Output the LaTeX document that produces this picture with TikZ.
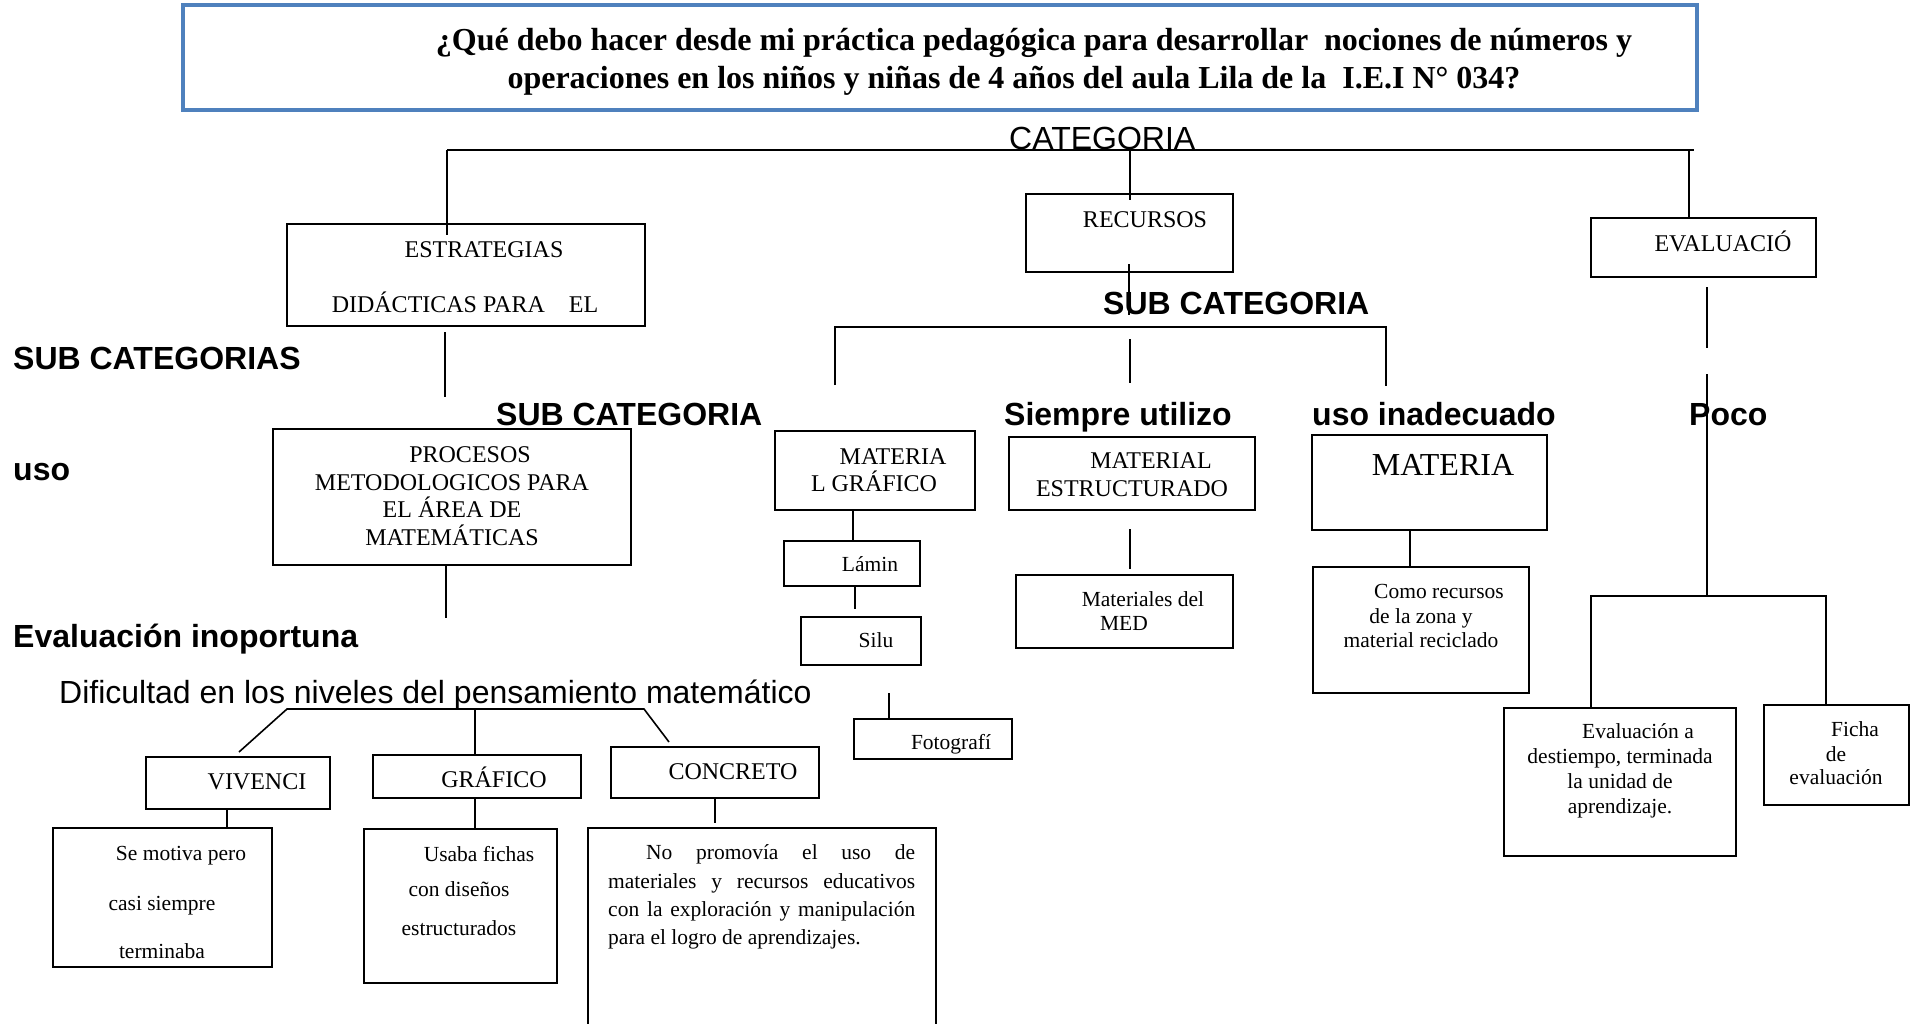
\documentclass[tikz,border=0pt]{standalone}
\usepackage{fontspec}
\setmainfont{Liberation Serif}
\newfontfamily\arialf{Liberation Sans}
\definecolor{titleblue}{RGB}{79,129,189}
\newcommand\mybox[6][]{\node[bx,#1,minimum width={(#5)-(#3)},minimum height={(#6)-(#4)}] (#2) at ({((#3)+(#5))/2},{((#4)+(#6))/2}) {};}
\begin{document}
\begin{tikzpicture}[x=1pt,y=-1pt,
  bx/.style={draw=black,line width=1.2pt,inner sep=0pt,outer sep=0pt},
  ln/.style={line width=1.6pt},
  ttl/.style={font=\bfseries\fontsize{32}{37}\selectfont,inner sep=0pt,anchor=base},
  cps/.style={font=\fontsize{24}{28}\selectfont,inner sep=0pt,anchor=base},
  bigt/.style={font=\fontsize{32}{37}\selectfont,inner sep=0pt,anchor=base},
  sml/.style={font=\fontsize{21.5}{25}\selectfont,inner sep=0pt,anchor=base},
  smlw/.style={font=\fontsize{21.5}{25}\selectfont,inner sep=0pt,anchor=base west},
  lab/.style={font=\arialf\bfseries\fontsize{32}{37}\selectfont,inner sep=0pt,anchor=base west},
  reg/.style={font=\arialf\fontsize{32}{37}\selectfont,inner sep=0pt,anchor=base west}]
\useasboundingbox (0,0) rectangle (1916,1023);

% ---------- title ----------
\mybox[draw=titleblue,line width=3.5pt]{title}{183}{5}{1697}{110}
\node[ttl] (t1) at (1034,50) {¿Qué debo hacer desde mi práctica pedagógica para desarrollar\ \ nociones de números y};
\node[ttl] (t2) at (1014,88) {operaciones en los niños y niñas de 4 años del aula Lila de la\ \ I.E.I N° 034?};

% ---------- boxes ----------
\mybox{estr}{287}{224}{645}{326}
\mybox{rec}{1026}{194}{1233}{272}
\mybox{eval}{1591}{218}{1816}{277}
\mybox{proc}{273}{429}{631}{565}
\mybox{mgraf}{775}{431}{975}{510}
\mybox{lamin}{784}{541}{920}{586}
\mybox{silu}{801}{617}{921}{665}
\mybox{foto}{854}{719}{1012}{759}
\mybox{mest}{1009}{437}{1255}{510}
\mybox{med}{1016}{575}{1233}{648}
\mybox{mat}{1312}{435}{1547}{530}
\mybox{como}{1313}{567}{1529}{693}
\mybox{evdest}{1504}{708}{1736}{856}
\mybox{ficha}{1764}{705}{1909}{805}
\mybox{viv}{146}{757}{330}{809}
\mybox{semot}{53}{828}{272}{967}
\mybox{gra}{373}{755}{581}{798}
\mybox{usa}{364}{829}{557}{983}
\mybox{con}{611}{747}{819}{798}
\mybox{nopro}{588}{828}{936}{1060}

% ---------- labels ----------
\node[reg] (cat) at (1009,149) {CATEGORIA};
\node[reg] (dif) at (59,703) {Dificultad en los niveles del pensamiento matemático};
\node[lab] (subcats) at (13,369) {SUB CATEGORIAS};
\node[lab] (uso) at (13,480) {uso};
\node[lab] (evinop) at (13,647) {Evaluación inoportuna};
\node[lab] (subA) at (496,425) {SUB CATEGORIA};
\node[lab] (subB) at (1103,314) {SUB CATEGORIA};
\node[lab] (siempre) at (1004,425) {Siempre utilizo};
\node[lab] (usoin) at (1312,425) {uso inadecuado};
\node[lab] (poco) at (1689,425) {Poco};

% ---------- box texts ----------
\node[cps] (estrA) at (484,257) {ESTRATEGIAS};
\node[cps] (estrB) at (465,312) {DIDÁCTICAS PARA\ \ \ \ EL};
\node[cps] (recT) at (1145,227) {RECURSOS};
\node[cps] (evalT) at (1723,251) {EVALUACIÓ};
\node[cps] (procA) at (470,462) {PROCESOS};
\node[cps] (procB) at (452,490) {METODOLOGICOS PARA};
\node[cps] (procC) at (452,517) {EL ÁREA DE};
\node[cps] (procD) at (452,545) {MATEMÁTICAS};
\node[cps] (mgA) at (893,464) {MATERIA};
\node[cps] (mgB) at (874,491) {L GRÁFICO};
\node[cps] (meA) at (1151,468) {MATERIAL};
\node[cps] (meB) at (1132,496) {ESTRUCTURADO};
\node[cps] (vivT) at (257,789) {VIVENCI};
\node[cps] (graT) at (494,787) {GRÁFICO};
\node[cps] (conT) at (733,779) {CONCRETO};
\node[bigt] (matT) at (1443,475) {MATERIA};

\node[sml] (lamT) at (870,571) {Lámin};
\node[sml] (siluT) at (876,647) {Silu};
\node[sml] (fotoT) at (951,749) {Fotografí};
\node[sml] (medA) at (1143,606) {Materiales del};
\node[sml] (medB) at (1124,630) {MED};
\node[sml] (comoA) at (1439,598) {Como recursos};
\node[sml] (comoB) at (1421,623) {de la zona y};
\node[sml] (comoC) at (1421,647) {material reciclado};
\node[sml] (edA) at (1638,738) {Evaluación a};
\node[sml] (edB) at (1620,763) {destiempo, terminada};
\node[sml] (edC) at (1620,788) {la unidad de};
\node[sml] (edD) at (1620,813) {aprendizaje.};
\node[sml] (fiA) at (1855,736) {Ficha};
\node[sml] (fiB) at (1836,761) {de};
\node[sml] (fiC) at (1836,784) {evaluación};
\node[sml] (smA) at (181,860) {Se motiva pero};
\node[sml] (smB) at (162,910) {casi siempre};
\node[sml] (smC) at (162,958) {terminaba};
\node[sml] (usA) at (479,861) {Usaba fichas};
\node[sml] (usB) at (459,896) {con diseños};
\node[sml] (usC) at (459,935) {estructurados};
\node[smlw] (npA) at (646,859) {\makebox[269pt][s]{No promovía el uso de}};
\node[smlw] (npB) at (608,888) {\makebox[307pt][s]{materiales y recursos educativos}};
\node[smlw] (npC) at (608,916) {\makebox[307pt][s]{con la exploración y manipulación}};
\node[smlw] (npD) at (608,944) {para el logro de aprendizajes.};

% ---------- connectors ----------
\coordinate (tl) at (447,150);
\coordinate (tr) at (1694,150);
\coordinate (estrIn) at (447,235);
\draw[ln] (tl) -- (tr);
\draw[ln] (tl) -- (estrIn);
\coordinate (recTop) at (1130,150);
\coordinate (recIn) at (1130,200);
\draw[ln] (recTop) -- (recIn);
\coordinate (evTop) at (1689,150);
\draw[ln] (evTop) -- (evTop |- eval.north);
\coordinate (rs1) at (1129,264);
\coordinate (rs2) at (1129,315);
\draw[ln] (rs1) -- (rs2);
\coordinate (sl) at (835,327);
\coordinate (sr) at (1386,327);
\coordinate (sld) at (835,385);
\coordinate (srd) at (1386,386);
\draw[ln] (sld) -- (sl) -- (sr) -- (srd);
\coordinate (sm1) at (1130,339);
\coordinate (sm2) at (1130,383);
\draw[ln] (sm1) -- (sm2);
% evaluacion branch
\coordinate (ev1) at (1707,287);
\coordinate (ev2) at (1707,348);
\draw[ln] (ev1) -- (ev2);
\coordinate (ev3) at (1707,374);
\coordinate (ev4) at (1707,596);
\draw[ln] (ev3) -- (ev4);
\coordinate (ebl) at (1591,596);
\coordinate (ebr) at (1826,596);
\draw[ln] (ebl |- evdest.north) -- (ebl) -- (ebr) -- (ebr |- ficha.north);
% estrategias stubs
\coordinate (es1) at (445,332);
\coordinate (es2) at (445,397);
\draw[ln] (es1) -- (es2);
\coordinate (ps) at (446,618);
\draw[ln] (ps |- proc.south) -- (ps);
% material grafico chain
\coordinate (xmg) at (853,0);
\draw[ln] (xmg |- mgraf.south) -- (xmg |- lamin.north);
\coordinate (ls) at (855,609);
\draw[ln] (ls |- lamin.south) -- (ls);
\coordinate (fs1) at (889,693);
\coordinate (fs2) at (889,718);
\draw[ln] (fs1) -- (fs2);
% material estructurado
\coordinate (ms1) at (1130,529);
\coordinate (ms2) at (1130,569);
\draw[ln] (ms1) -- (ms2);
% materia -> como
\coordinate (xmc) at (1410,0);
\draw[ln] (xmc |- mat.south) -- (xmc |- como.north);
% dificultad bracket
\coordinate (bl) at (287,709);
\coordinate (bm) at (475,709);
\coordinate (br) at (644,709);
\coordinate (dl) at (239,752);
\coordinate (dm) at (475,754);
\coordinate (dr) at (669,742);
\draw[ln] (dl) -- (bl) -- (br) -- (dr);
\draw[ln] (bm) -- (dm);
\coordinate (xv) at (227,0);
\draw[ln] (xv |- viv.south) -- (xv |- semot.north);
\coordinate (xg) at (475,0);
\draw[ln] (xg |- gra.south) -- (xg |- usa.north);
\coordinate (cs) at (715,823);
\draw[ln] (cs |- con.south) -- (cs);
\end{tikzpicture}
\end{document}
